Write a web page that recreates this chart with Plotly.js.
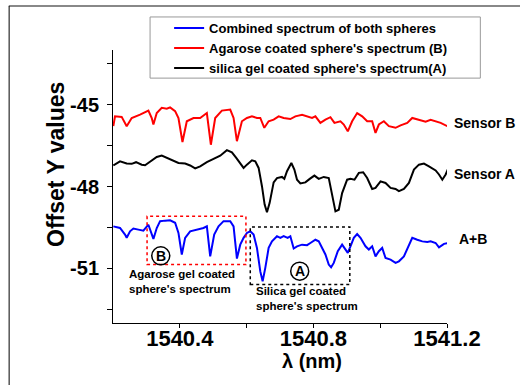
<!DOCTYPE html>
<html>
<head>
<meta charset="utf-8">
<script src="https://cdn.plot.ly/plotly-3.0.1.min.js"></script>
<style>html,body{margin:0;padding:0;background:#fff;}#chart{width:520px;height:385px;}</style>
</head>
<body>
<div id="chart"></div>
<script>
// ---- data (wavelength in nm, offset Y values) ----
const redX = [1540.201,1540.206,1540.226,1540.241,1540.256,1540.281,1540.306,1540.316,1540.321,1540.331,1540.346,1540.361,1540.371,1540.386,1540.396,1540.408,1540.421,1540.441,1540.461,1540.481,1540.493,1540.506,1540.526,1540.551,1540.561,1540.571,1540.586,1540.601,1540.616,1540.631,1540.641,1540.653,1540.666,1540.681,1540.696,1540.711,1540.731,1540.746,1540.766,1540.781,1540.796,1540.806,1540.821,1540.836,1540.851,1540.863,1540.881,1540.891,1540.903,1540.916,1540.931,1540.946,1540.961,1540.976,1540.986,1540.996,1541.011,1541.026,1541.046,1541.061,1541.081,1541.096,1541.111,1541.136,1541.151,1541.166,1541.181,1541.201];
const redY = [-45.79,-45.43,-45.45,-45.79,-45.49,-45.37,-45.22,-45.49,-45.73,-45.31,-45.12,-45.15,-45.10,-45.24,-45.49,-46.37,-45.61,-45.49,-45.49,-45.31,-46.47,-45.49,-45.22,-45.18,-45.49,-46.34,-45.61,-45.49,-45.43,-45.49,-45.49,-45.85,-45.61,-45.55,-45.43,-45.49,-45.53,-45.43,-45.37,-45.43,-45.49,-45.43,-45.67,-45.55,-45.46,-45.67,-45.61,-45.73,-45.98,-45.61,-45.31,-45.43,-45.61,-45.61,-46.04,-45.73,-45.61,-45.79,-45.85,-45.76,-45.67,-45.49,-45.55,-45.63,-45.56,-45.61,-45.67,-45.79];

const blackX = [1540.201,1540.221,1540.241,1540.256,1540.269,1540.286,1540.296,1540.311,1540.331,1540.346,1540.361,1540.376,1540.396,1540.416,1540.431,1540.446,1540.461,1540.481,1540.501,1540.521,1540.541,1540.556,1540.569,1540.581,1540.591,1540.601,1540.616,1540.626,1540.636,1540.646,1540.654,1540.661,1540.669,1540.681,1540.691,1540.706,1540.713,1540.721,1540.734,1540.743,1540.751,1540.761,1540.776,1540.789,1540.803,1540.816,1540.831,1540.846,1540.853,1540.861,1540.866,1540.876,1540.886,1540.901,1540.911,1540.923,1540.936,1540.949,1540.961,1540.976,1540.986,1541.001,1541.016,1541.031,1541.046,1541.056,1541.071,1541.086,1541.101,1541.116,1541.131,1541.146,1541.166,1541.176,1541.186,1541.196,1541.203];
const blackY = [-47.23,-47.08,-47.16,-47.17,-47.11,-47.20,-47.22,-47.08,-46.92,-46.87,-46.95,-47.04,-47.14,-47.16,-47.23,-47.34,-47.26,-47.11,-46.99,-46.87,-46.67,-46.75,-46.95,-47.16,-47.32,-47.20,-47.04,-47.08,-47.32,-47.99,-48.66,-48.94,-48.60,-47.85,-47.69,-47.65,-47.72,-47.44,-47.14,-47.38,-47.75,-47.89,-47.85,-47.72,-47.60,-47.72,-47.65,-47.69,-48.11,-48.72,-48.91,-48.85,-48.24,-47.75,-47.72,-47.75,-47.50,-47.48,-47.69,-48.09,-48.05,-47.81,-47.87,-48.05,-48.09,-48.17,-48.09,-47.87,-47.38,-47.20,-47.16,-47.26,-47.41,-47.56,-47.75,-47.56,-47.36];

const blueX = [1540.201,1540.221,1540.236,1540.241,1540.251,1540.261,1540.276,1540.291,1540.306,1540.313,1540.321,1540.331,1540.341,1540.356,1540.371,1540.386,1540.396,1540.406,1540.416,1540.431,1540.451,1540.471,1540.481,1540.491,1540.503,1540.516,1540.531,1540.551,1540.561,1540.571,1540.581,1540.591,1540.601,1540.611,1540.621,1540.631,1540.641,1540.648,1540.656,1540.666,1540.676,1540.691,1540.701,1540.711,1540.723,1540.731,1540.741,1540.751,1540.766,1540.781,1540.791,1540.806,1540.816,1540.823,1540.836,1540.846,1540.853,1540.861,1540.873,1540.886,1540.896,1540.903,1540.911,1540.921,1540.931,1540.941,1540.956,1540.966,1540.976,1540.986,1540.996,1541.006,1541.016,1541.031,1541.046,1541.056,1541.071,1541.086,1541.096,1541.111,1541.126,1541.141,1541.151,1541.166,1541.176,1541.191,1541.203];
const blueY = [-49.46,-49.52,-49.76,-49.88,-49.64,-49.54,-49.58,-49.62,-49.40,-49.64,-49.92,-49.52,-49.27,-49.25,-49.24,-49.33,-49.70,-50.49,-49.88,-49.64,-49.58,-49.52,-49.46,-50.56,-49.76,-49.46,-49.27,-49.27,-49.46,-50.64,-50.13,-49.88,-49.70,-49.64,-49.76,-50.25,-51.11,-51.47,-50.98,-50.25,-50.01,-49.82,-49.88,-49.82,-49.88,-49.82,-50.27,-50.19,-50.13,-50.15,-50.07,-49.95,-50.01,-50.19,-50.49,-50.86,-50.96,-50.80,-50.37,-50.13,-50.31,-50.43,-50.19,-49.88,-49.74,-49.88,-50.19,-50.31,-50.19,-50.56,-50.37,-50.25,-50.62,-50.68,-50.80,-50.74,-50.56,-50.13,-49.88,-49.95,-50.01,-50.03,-50.01,-50.07,-50.23,-50.10,-50.07];

const seriesNames = ["Combined spectrum of both spheres", "Agarose coated sphere's spectrum (B)", "silica gel coated sphere's spectrum(A)"];
const yTickVals = [-51, -48, -45];
const yTickText = ["-51", "-48", "-45"];
const xTickVals = [1540.4, 1540.8, 1541.2];
const xTickText = ["1540.4", "1540.8", "1541.2"];
const curveLabels = ["Sensor B", "Sensor A", "A+B"];

const F = "Arial, 'Liberation Sans', sans-serif";

const traces = [
  {x: blueX, y: blueY, name: seriesNames[0], mode: 'lines', line: {color: '#0000ff', width: 2}},
  {x: redX, y: redY, name: seriesNames[1], mode: 'lines', line: {color: '#ff0000', width: 2}},
  {x: blackX, y: blackY, name: seriesNames[2], mode: 'lines', line: {color: '#000000', width: 2}}
];

const layout = {
  width: 520, height: 385,
  margin: {l: 113, r: 73, t: 50, b: 62},
  paper_bgcolor: '#fff', plot_bgcolor: '#fff',
  font: {family: F, color: '#000'},
  showlegend: true,
  legend: {
    x: 0.168, y: 1.135, xanchor: 'left', yanchor: 'top',
    bgcolor: 'rgba(0,0,0,0)', borderwidth: 0,
    font: {family: F, size: 13, weight: 'bold', color: '#000'},
    tracegroupgap: 0
  },
  xaxis: {
    range: [1540.2, 1541.2], showgrid: false, zeroline: false,
    showline: true, linecolor: '#000', linewidth: 1, mirror: false,
    ticks: 'outside', ticklen: 4, tickcolor: '#000', tickwidth: 1,
    tickvals: xTickVals, ticktext: xTickText,
    tickfont: {family: F, size: 22, weight: 'bold', color: '#000'},
    minor: {tickvals: [1540.6, 1541.0], ticks: 'outside', ticklen: 4, tickcolor: '#000', showgrid: false},
    ticklabelstandoff: -8
  },
  yaxis: {
    range: [-53, -43], showgrid: false, zeroline: false,
    showline: true, linecolor: '#000', linewidth: 1, mirror: false,
    ticks: 'outside', ticklen: 5, tickcolor: '#000', tickwidth: 1,
    tickvals: yTickVals, ticktext: yTickText,
    tickfont: {family: F, size: 20, weight: 'bold', color: '#000'},
    minor: {tickvals: [-52.5, -49.5, -46.5, -43.5], ticks: 'outside', ticklen: 5, tickcolor: '#000', showgrid: false},
    ticklabelstandoff: 4
  },
  shapes: [
    // figure frame
    {type: 'line', xref: 'paper', yref: 'paper', x0: -0.312, x1: 1.25, y0: 1.161, y1: 1.161, line: {color: '#888', width: 2}},
    {type: 'line', xref: 'paper', yref: 'paper', x0: -0.311, x1: -0.311, y0: 1.161, y1: -0.25, line: {color: '#000', width: 1}},
    // legend frame
    {type: 'rect', xref: 'paper', yref: 'paper', x0: 0.111, x1: 1.0998, y0: 0.897, y1: 1.121, line: {color: '#999', width: 1}, fillcolor: 'rgba(0,0,0,0)'},
    // dotted boxes
    {type: 'rect', xref: 'x', yref: 'y', x0: 1540.302, x1: 1540.598, y0: -50.86, y1: -49.09, line: {color: '#ff0000', width: 1.5, dash: 'dot'}},
    {type: 'rect', xref: 'x', yref: 'y', x0: 1540.611, x1: 1540.909, y0: -51.59, y1: -49.48, line: {color: '#000', width: 1.5, dash: 'dot'}},
    // circles
    {type: 'circle', xref: 'x', yref: 'y', xsizemode: 'pixel', ysizemode: 'pixel', xanchor: 1540.343, yanchor: -50.54, x0: -9, x1: 9, y0: -9, y1: 9, line: {color: '#000', width: 1.5}},
    {type: 'circle', xref: 'x', yref: 'y', xsizemode: 'pixel', ysizemode: 'pixel', xanchor: 1540.759, yanchor: -51.10, x0: -9, x1: 9, y0: -9, y1: 9, line: {color: '#000', width: 1.5}}
  ],
  annotations: [
    {xref: 'paper', yref: 'paper', x: -0.171, y: 0.582, text: 'Offset Y values', textangle: -90, showarrow: false, xanchor: 'center', yanchor: 'middle', font: {family: F, size: 23, weight: 'bold'}},
    {xref: 'paper', yref: 'paper', x: 0.595, y: -0.14, text: 'λ (nm)', showarrow: false, xanchor: 'center', yanchor: 'middle', font: {family: F, size: 20, weight: 'bold'}},
    {xref: 'paper', yref: 'y', x: 1.016, y: -45.66, text: curveLabels[0], showarrow: false, xanchor: 'left', yanchor: 'middle', font: {family: F, size: 14, weight: 'bold'}},
    {xref: 'paper', yref: 'y', x: 1.016, y: -47.56, text: curveLabels[1], showarrow: false, xanchor: 'left', yanchor: 'middle', font: {family: F, size: 14, weight: 'bold'}},
    {xref: 'paper', yref: 'y', x: 1.031, y: -49.91, text: curveLabels[2], showarrow: false, xanchor: 'left', yanchor: 'middle', font: {family: F, size: 14, weight: 'bold'}},
    {xref: 'x', yref: 'y', x: 1540.241, y: -51.48, text: "Agarose gel coated<br>sphere's spectrum", align: 'left', showarrow: false, xanchor: 'left', yanchor: 'middle', font: {family: F, size: 11.5, weight: 'bold'}},
    {xref: 'x', yref: 'y', x: 1540.623, y: -52.10, text: "Silica gel coated<br>sphere's spectrum", align: 'left', showarrow: false, xanchor: 'left', yanchor: 'middle', font: {family: F, size: 11.5, weight: 'bold'}},
    {xref: 'x', yref: 'y', x: 1540.343, y: -50.54, text: 'B', showarrow: false, xanchor: 'center', yanchor: 'middle', font: {family: F, size: 14, weight: 'bold'}},
    {xref: 'x', yref: 'y', x: 1540.759, y: -51.10, text: 'A', showarrow: false, xanchor: 'center', yanchor: 'middle', font: {family: F, size: 14, weight: 'bold'}}
  ]
};

Plotly.newPlot('chart', traces, layout, {staticPlot: true, displayModeBar: false});
</script>
</body>
</html>
